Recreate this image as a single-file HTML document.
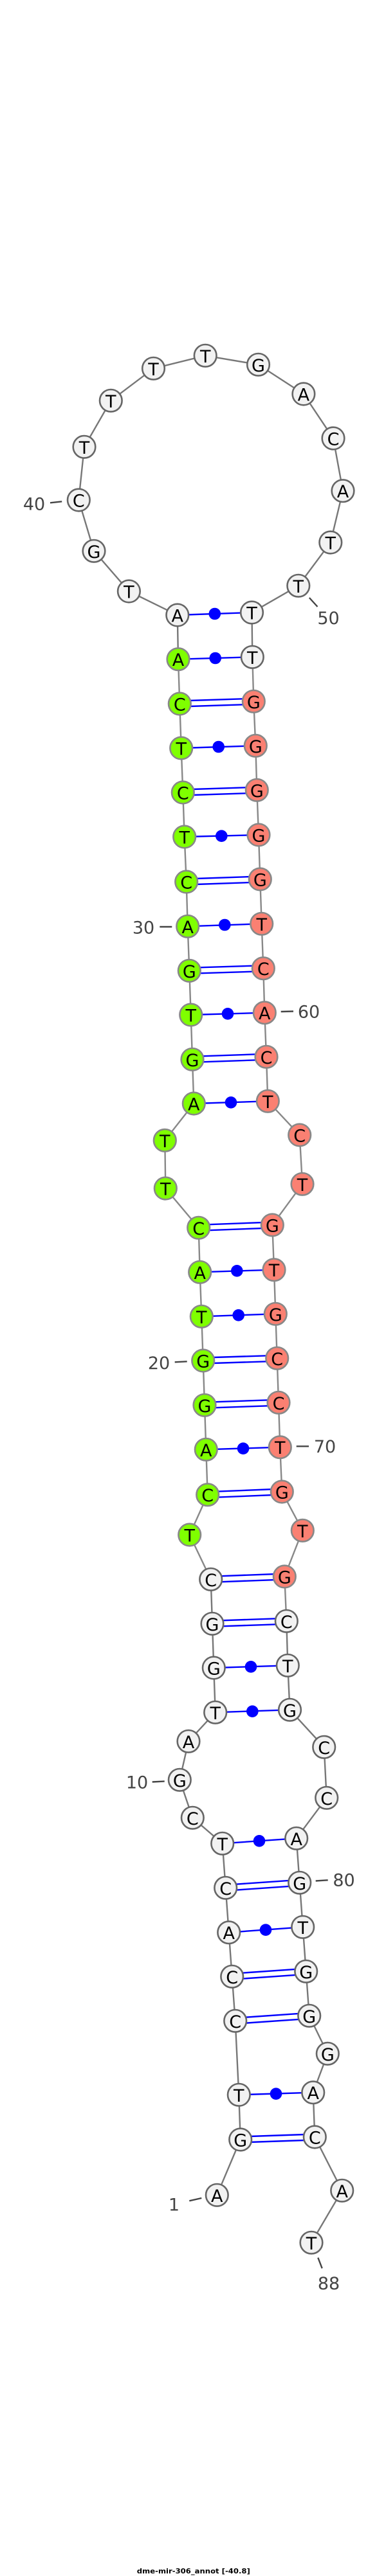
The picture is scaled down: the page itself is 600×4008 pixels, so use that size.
<!DOCTYPE html>
<html><head><meta charset="utf-8"><style>
html,body{margin:0;padding:0;background:#fff}
svg{display:block}
.bw{fill:none;stroke:#777;stroke-width:2.4}
.bc{fill:none;stroke:#888;stroke-width:2.4}
.p{fill:none;stroke:#00f;stroke-width:2.4}
.d{fill:#00f}
.t{stroke:#444;stroke-width:2.4;fill:none}
.w circle{fill:#f2f2f2;stroke:#666;stroke-width:2.6}
.g circle{fill:#7fff00;stroke:#888;stroke-width:2.6}
.s circle{fill:#fa8072;stroke:#888;stroke-width:2.6}
.n text{font-family:"DejaVu Sans",sans-serif;font-size:27px;text-anchor:middle;fill:#000}
.l text{font-family:"DejaVu Sans",sans-serif;font-size:27px;text-anchor:middle;fill:#444}
</style></head><body>
<svg xmlns="http://www.w3.org/2000/svg" width="600" height="4008" viewBox="0 0 600 4008">
<rect width="600" height="4008" fill="#fff"/>
<!-- backbone -->
<polyline class="bw" points="337.3,3415.3 373.7,3329 371.3,3259.3 365.7,3144.3 360.7,3075.3 355.7,3006.7 350.7,2937.3 345.7,2868.3 299.3,2828.3 279.3,2769.3 293,2709.3 334.7,2664.3 332.3,2595 330,2526.3 327.7,2457.3"/>
<polyline class="bc" points="327.7,2457.3 294.7,2388 322.7,2325.7 320.3,2255.3 318,2186.3 315.7,2117 313.3,2048.3 310.7,1979.3 308.7,1910.3 257.3,1849 256.3,1774.3 301.3,1717 299,1648.3 296.7,1579 294.3,1510.3 291.7,1441.3 289.7,1372 286.7,1302 284.3,1233 281.7,1164 279.3,1095 277,1025.7"/>
<polyline class="bw" points="277,1025.7 275.8,957 200.4,920 146,857.3 122.3,778 131,695.3 172.3,623.3 238.5,573.3 319.2,553.3 401.5,567.3 471.9,613 518,682 533,763.7 513.8,844 463.8,911.3 391.5,953 392.3,1022.3"/>
<polyline class="bc" points="392.3,1022.3 394.3,1091.3 397.3,1160.3 399.3,1229.3 402,1299 404.3,1368 406.7,1437.3 409.3,1506.7 411.3,1575.7 414,1644.3 416.3,1713.3 465.7,1766 470,1842.3 423.3,1906 426,1975.7 428.3,2044.3 430.7,2113.3 433,2182.3 435.3,2251.7 438.3,2321 470.3,2381.3 442.3,2453 445.3,2522.3"/>
<polyline class="bw" points="445.3,2522.3 447.3,2591.3 450.5,2660.3 503.7,2718.3 507.7,2797.3 460.7,2860.3 465.7,2929.3 470.7,2998.3 475.7,3067.3 480.7,3136.3 509.3,3195.3 486.7,3255.7 489.3,3325 531.7,3408.3 484,3489.3"/>
<!-- single pairs with dots -->
<path class="p" d="M275.8,957L391.5,953M277,1025.7L392.3,1022.3M281.7,1164L397.3,1160.3M286.7,1302L402,1299M291.7,1441.3L406.7,1437.3M296.7,1579L411.3,1575.7M301.3,1717L416.3,1713.3M310.7,1979.3L426,1975.7M313.3,2048.3L428.3,2044.3M320.3,2255.3L435.3,2251.7M332.3,2595L447.3,2591.3M334.7,2664.3L450.5,2660.3M345.7,2868.3L460.7,2860.3M355.7,3006.7L470.7,2998.3M371.3,3259.3L486.7,3255.7"/>
<g class="d">
<circle cx="333.8" cy="955" r="9.3"/><circle cx="334.7" cy="1024" r="9.3"/><circle cx="339.7" cy="1162" r="9.3"/><circle cx="344.3" cy="1300.7" r="9.3"/><circle cx="349.3" cy="1439" r="9.3"/><circle cx="354" cy="1577.3" r="9.3"/><circle cx="359" cy="1715.3" r="9.3"/><circle cx="368.3" cy="1977.3" r="9.3"/><circle cx="370.7" cy="2046.3" r="9.3"/><circle cx="378" cy="2253.7" r="9.3"/><circle cx="390" cy="2593.3" r="9.3"/><circle cx="392.3" cy="2662.7" r="9.3"/><circle cx="403" cy="2864.3" r="9.3"/><circle cx="413" cy="3002.7" r="9.3"/><circle cx="429" cy="3257.7" r="9.3"/>
</g>
<!-- double pairs -->
<path class="p" d="M279.3,1090.5L394.3,1086.8M279.3,1099.5L394.3,1095.8M284.3,1228.5L399.3,1224.8M284.3,1237.5L399.3,1233.8M289.7,1367.5L404.3,1363.5M289.7,1376.5L404.3,1372.5M294.3,1505.8L409.3,1502.2M294.3,1514.8L409.3,1511.2M299,1643.8L414,1639.8M299,1652.8L414,1648.8M308.7,1905.8L423.3,1901.5M308.7,1914.8L423.3,1910.5M315.7,2112.5L430.7,2108.8M315.7,2121.5L430.7,2117.8M318,2181.8L433,2177.8M318,2190.8L433,2186.8M322.7,2321.2L438.3,2316.5M322.7,2330.2L438.3,2325.5M327.7,2452.8L442.3,2448.5M327.7,2461.8L442.3,2457.5M330,2521.8L445.3,2517.8M330,2530.8L445.3,2526.8M350.7,2932.8L465.7,2924.8M350.7,2941.8L465.7,2933.8M360.7,3070.8L475.7,3062.8M360.7,3079.8L475.7,3071.8M365.7,3139.8L480.7,3131.8M365.7,3148.8L480.7,3140.8M373.7,3324.5L489.3,3320.5M373.7,3333.5L489.3,3329.5"/>
<!-- ticks -->
<path class="t" d="M294.3,3424.3L313.3,3420M236.7,2772.5L255.7,2771.5M271.7,2119.3L290.7,2118.3M248.3,1442L267.3,1442M78,782.3L96.2,780.3M480.8,930L493.5,944M436.7,1574L456,1573.5M460.7,2250.3L480,2250.3M490.7,2926.5L509.7,2925.3M494.3,3512.7L500.7,3529.3"/>
<!-- nodes -->
<g class="n w">
<circle cx="337.3" cy="3415.3" r="17.3"/><text x="337.3" y="3415.3" dy="10.5">A</text>
<circle cx="373.7" cy="3329" r="17.3"/><text x="373.7" y="3329" dy="10.5">G</text>
<circle cx="371.3" cy="3259.3" r="17.3"/><text x="371.3" y="3259.3" dy="10.5">T</text>
<circle cx="365.7" cy="3144.3" r="17.3"/><text x="365.7" y="3144.3" dy="10.5">C</text>
<circle cx="360.7" cy="3075.3" r="17.3"/><text x="360.7" y="3075.3" dy="10.5">C</text>
<circle cx="355.7" cy="3006.7" r="17.3"/><text x="355.7" y="3006.7" dy="10.5">A</text>
<circle cx="350.7" cy="2937.3" r="17.3"/><text x="350.7" y="2937.3" dy="10.5">C</text>
<circle cx="345.7" cy="2868.3" r="17.3"/><text x="345.7" y="2868.3" dy="10.5">T</text>
<circle cx="299.3" cy="2828.3" r="17.3"/><text x="299.3" y="2828.3" dy="10.5">C</text>
<circle cx="279.3" cy="2769.3" r="17.3"/><text x="279.3" y="2769.3" dy="10.5">G</text>
<circle cx="293" cy="2709.3" r="17.3"/><text x="293" y="2709.3" dy="10.5">A</text>
<circle cx="334.7" cy="2664.3" r="17.3"/><text x="334.7" y="2664.3" dy="10.5">T</text>
<circle cx="332.3" cy="2595" r="17.3"/><text x="332.3" y="2595" dy="10.5">G</text>
<circle cx="330" cy="2526.3" r="17.3"/><text x="330" y="2526.3" dy="10.5">G</text>
<circle cx="327.7" cy="2457.3" r="17.3"/><text x="327.7" y="2457.3" dy="10.5">C</text>
<circle cx="275.8" cy="957" r="17.3"/><text x="275.8" y="957" dy="10.5">A</text>
<circle cx="200.4" cy="920" r="17.3"/><text x="200.4" y="920" dy="10.5">T</text>
<circle cx="146" cy="857.3" r="17.3"/><text x="146" y="857.3" dy="10.5">G</text>
<circle cx="122.3" cy="778" r="17.3"/><text x="122.3" y="778" dy="10.5">C</text>
<circle cx="131" cy="695.3" r="17.3"/><text x="131" y="695.3" dy="10.5">T</text>
<circle cx="172.3" cy="623.3" r="17.3"/><text x="172.3" y="623.3" dy="10.5">T</text>
<circle cx="238.5" cy="573.3" r="17.3"/><text x="238.5" y="573.3" dy="10.5">T</text>
<circle cx="319.2" cy="553.3" r="17.3"/><text x="319.2" y="553.3" dy="10.5">T</text>
<circle cx="401.5" cy="567.3" r="17.3"/><text x="401.5" y="567.3" dy="10.5">G</text>
<circle cx="471.9" cy="613" r="17.3"/><text x="471.9" y="613" dy="10.5">A</text>
<circle cx="518" cy="682" r="17.3"/><text x="518" y="682" dy="10.5">C</text>
<circle cx="533" cy="763.7" r="17.3"/><text x="533" y="763.7" dy="10.5">A</text>
<circle cx="513.8" cy="844" r="17.3"/><text x="513.8" y="844" dy="10.5">T</text>
<circle cx="463.8" cy="911.3" r="17.3"/><text x="463.8" y="911.3" dy="10.5">T</text>
<circle cx="391.5" cy="953" r="17.3"/><text x="391.5" y="953" dy="10.5">T</text>
<circle cx="392.3" cy="1022.3" r="17.3"/><text x="392.3" y="1022.3" dy="10.5">T</text>
<circle cx="445.3" cy="2522.3" r="17.3"/><text x="445.3" y="2522.3" dy="10.5">C</text>
<circle cx="447.3" cy="2591.3" r="17.3"/><text x="447.3" y="2591.3" dy="10.5">T</text>
<circle cx="450.5" cy="2660.3" r="17.3"/><text x="450.5" y="2660.3" dy="10.5">G</text>
<circle cx="503.7" cy="2718.3" r="17.3"/><text x="503.7" y="2718.3" dy="10.5">C</text>
<circle cx="507.7" cy="2797.3" r="17.3"/><text x="507.7" y="2797.3" dy="10.5">C</text>
<circle cx="460.7" cy="2860.3" r="17.3"/><text x="460.7" y="2860.3" dy="10.5">A</text>
<circle cx="465.7" cy="2929.3" r="17.3"/><text x="465.7" y="2929.3" dy="10.5">G</text>
<circle cx="470.7" cy="2998.3" r="17.3"/><text x="470.7" y="2998.3" dy="10.5">T</text>
<circle cx="475.7" cy="3067.3" r="17.3"/><text x="475.7" y="3067.3" dy="10.5">G</text>
<circle cx="480.7" cy="3136.3" r="17.3"/><text x="480.7" y="3136.3" dy="10.5">G</text>
<circle cx="509.3" cy="3195.3" r="17.3"/><text x="509.3" y="3195.3" dy="10.5">G</text>
<circle cx="486.7" cy="3255.7" r="17.3"/><text x="486.7" y="3255.7" dy="10.5">A</text>
<circle cx="489.3" cy="3325" r="17.3"/><text x="489.3" y="3325" dy="10.5">C</text>
<circle cx="531.7" cy="3408.3" r="17.3"/><text x="531.7" y="3408.3" dy="10.5">A</text>
<circle cx="484" cy="3489.3" r="17.3"/><text x="484" y="3489.3" dy="10.5">T</text>
</g>
<g class="n g">
<circle cx="294.7" cy="2388" r="17.3"/><text x="294.7" y="2388" dy="10.5">T</text>
<circle cx="322.7" cy="2325.7" r="17.3"/><text x="322.7" y="2325.7" dy="10.5">C</text>
<circle cx="320.3" cy="2255.3" r="17.3"/><text x="320.3" y="2255.3" dy="10.5">A</text>
<circle cx="318" cy="2186.3" r="17.3"/><text x="318" y="2186.3" dy="10.5">G</text>
<circle cx="315.7" cy="2117" r="17.3"/><text x="315.7" y="2117" dy="10.5">G</text>
<circle cx="313.3" cy="2048.3" r="17.3"/><text x="313.3" y="2048.3" dy="10.5">T</text>
<circle cx="310.7" cy="1979.3" r="17.3"/><text x="310.7" y="1979.3" dy="10.5">A</text>
<circle cx="308.7" cy="1910.3" r="17.3"/><text x="308.7" y="1910.3" dy="10.5">C</text>
<circle cx="257.3" cy="1849" r="17.3"/><text x="257.3" y="1849" dy="10.5">T</text>
<circle cx="256.3" cy="1774.3" r="17.3"/><text x="256.3" y="1774.3" dy="10.5">T</text>
<circle cx="301.3" cy="1717" r="17.3"/><text x="301.3" y="1717" dy="10.5">A</text>
<circle cx="299" cy="1648.3" r="17.3"/><text x="299" y="1648.3" dy="10.5">G</text>
<circle cx="296.7" cy="1579" r="17.3"/><text x="296.7" y="1579" dy="10.5">T</text>
<circle cx="294.3" cy="1510.3" r="17.3"/><text x="294.3" y="1510.3" dy="10.5">G</text>
<circle cx="291.7" cy="1441.3" r="17.3"/><text x="291.7" y="1441.3" dy="10.5">A</text>
<circle cx="289.7" cy="1372" r="17.3"/><text x="289.7" y="1372" dy="10.5">C</text>
<circle cx="286.7" cy="1302" r="17.3"/><text x="286.7" y="1302" dy="10.5">T</text>
<circle cx="284.3" cy="1233" r="17.3"/><text x="284.3" y="1233" dy="10.5">C</text>
<circle cx="281.7" cy="1164" r="17.3"/><text x="281.7" y="1164" dy="10.5">T</text>
<circle cx="279.3" cy="1095" r="17.3"/><text x="279.3" y="1095" dy="10.5">C</text>
<circle cx="277" cy="1025.7" r="17.3"/><text x="277" y="1025.7" dy="10.5">A</text>
</g>
<g class="n s">
<circle cx="394.3" cy="1091.3" r="17.3"/><text x="394.3" y="1091.3" dy="10.5">G</text>
<circle cx="397.3" cy="1160.3" r="17.3"/><text x="397.3" y="1160.3" dy="10.5">G</text>
<circle cx="399.3" cy="1229.3" r="17.3"/><text x="399.3" y="1229.3" dy="10.5">G</text>
<circle cx="402" cy="1299" r="17.3"/><text x="402" y="1299" dy="10.5">G</text>
<circle cx="404.3" cy="1368" r="17.3"/><text x="404.3" y="1368" dy="10.5">G</text>
<circle cx="406.7" cy="1437.3" r="17.3"/><text x="406.7" y="1437.3" dy="10.5">T</text>
<circle cx="409.3" cy="1506.7" r="17.3"/><text x="409.3" y="1506.7" dy="10.5">C</text>
<circle cx="411.3" cy="1575.7" r="17.3"/><text x="411.3" y="1575.7" dy="10.5">A</text>
<circle cx="414" cy="1644.3" r="17.3"/><text x="414" y="1644.3" dy="10.5">C</text>
<circle cx="416.3" cy="1713.3" r="17.3"/><text x="416.3" y="1713.3" dy="10.5">T</text>
<circle cx="465.7" cy="1766" r="17.3"/><text x="465.7" y="1766" dy="10.5">C</text>
<circle cx="470" cy="1842.3" r="17.3"/><text x="470" y="1842.3" dy="10.5">T</text>
<circle cx="423.3" cy="1906" r="17.3"/><text x="423.3" y="1906" dy="10.5">G</text>
<circle cx="426" cy="1975.7" r="17.3"/><text x="426" y="1975.7" dy="10.5">T</text>
<circle cx="428.3" cy="2044.3" r="17.3"/><text x="428.3" y="2044.3" dy="10.5">G</text>
<circle cx="430.7" cy="2113.3" r="17.3"/><text x="430.7" y="2113.3" dy="10.5">C</text>
<circle cx="433" cy="2182.3" r="17.3"/><text x="433" y="2182.3" dy="10.5">C</text>
<circle cx="435.3" cy="2251.7" r="17.3"/><text x="435.3" y="2251.7" dy="10.5">T</text>
<circle cx="438.3" cy="2321" r="17.3"/><text x="438.3" y="2321" dy="10.5">G</text>
<circle cx="470.3" cy="2381.3" r="17.3"/><text x="470.3" y="2381.3" dy="10.5">T</text>
<circle cx="442.3" cy="2453" r="17.3"/><text x="442.3" y="2453" dy="10.5">G</text>
</g>
<!-- number labels -->
<g class="l">
<text x="270.5" y="3439.5">1</text>
<text x="213" y="2782.5">10</text>
<text x="247" y="2130">20</text>
<text x="223" y="1452.5">30</text>
<text x="53" y="793.5">40</text>
<text x="510.5" y="971">50</text>
<text x="480" y="1583.5">60</text>
<text x="505" y="2260">70</text>
<text x="534.5" y="2934.5">80</text>
<text x="511" y="3562">88</text>
</g>
<text x="300.8" y="4004" font-family="'DejaVu Sans',sans-serif" font-size="11" font-weight="bold" text-anchor="middle" textLength="176" lengthAdjust="spacingAndGlyphs" fill="#000">dme-mir-306_annot [-40.8]</text>
</svg>
</body></html>
